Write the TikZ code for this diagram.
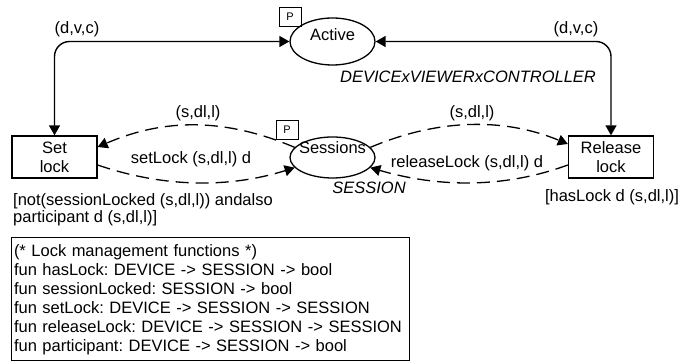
\documentclass[tikz,border=0pt]{standalone}
\usepackage{fontspec}
\setmainfont{Liberation Sans}
\usepackage{xcolor}
\usepackage{tikz}
\usetikzlibrary{arrows.meta, positioning, shapes.geometric, calc}
\definecolor{trait}{HTML}{000000}
\tikzset{
  lieu/.style={ellipse, draw=trait, line width=1.3pt, minimum width=85pt,
    minimum height=47pt, inner sep=0pt},
  transition/.style={rectangle, draw=trait, line width=1.3pt, minimum width=85pt,
    minimum height=42pt, align=center, inner sep=0pt},
  marque/.style={rectangle, draw=trait, line width=0.8pt,
    font=\fontsize{11}{13}\selectfont, minimum width=22pt, minimum height=19pt, inner sep=0pt},
  fleche/.style={{Triangle[length=10pt, width=11pt]}-{Triangle[length=10pt, width=11pt]},
    line width=1.4pt, rounded corners=15pt, color=trait},
  pointille/.style={-{Triangle[length=10pt, width=11pt]}, line width=1.3pt,
    dash pattern=on 13pt off 7pt, color=trait},
  etiquette/.style={inner sep=0pt},
  typelieu/.style={font=\itshape, inner sep=0pt},
  garde/.style={align=left, inner sep=0pt, font=\fontsize{16.5}{17}\selectfont},
  declarations/.style={rectangle, draw=trait, line width=1pt, minimum width=398pt,
    minimum height=123pt, text width=392pt, align=left, inner sep=3pt}
}
\begin{document}
\fontsize{16.5}{19}\selectfont\frenchspacing\hyphenpenalty=10000
\begin{tikzpicture}[x=1pt, y=-1pt]
    \useasboundingbox (0,0) rectangle (681,363);
    % Places
    \node[lieu] (actif) at (332.5,41.5) {};
    \node[etiquette] (tactif) at (332.5,35) {Active};
    \node[marque] (pactif) at (290,16.5) {P};
    \node[typelieu] (cactif) at (468,77) {DEVICExVIEWERxCONTROLLER};

    \node[lieu, minimum height=41pt] (sess) at (332.5,157.5) {};
    \node[etiquette] (tsess) at (332.5,148) {Sessions};
    \node[marque] (psess) at (287,130) {P};
    \node[typelieu] (csess) at (369,188) {SESSION};

    % Transitions
    \node[transition] (pose) at (54.5,157) {Set\\lock};
    \node[transition] (libere) at (611,157) {Release\\lock};
    \node[garde, anchor=west] (gpose) at (13,209.5) {[not(sessionLocked (s,dl,l)) andalso\\participant d (s,dl,l)]};
    \node[garde] (glibere) at (612,197) {[hasLock d (s,dl,l)]};

    % Arcs
    \draw[fleche] (actif.west) -| (pose.north);
    \draw[fleche] (actif.east) -| (libere.north);
    \node[etiquette] (e1) at (77,29) {(d,v,c)};
    \node[etiquette] (e2) at (576,29) {(d,v,c)};

    \draw[pointille] (sess.165) .. controls (225,118) and (165,118) .. ([yshift=10pt]pose.east);
    \draw[pointille] ([yshift=-8pt]pose.east) .. controls (165,188) and (230,188) .. (sess.195);
    \draw[pointille] (sess.15) .. controls (440,118) and (505,118) .. ([yshift=13pt]libere.west);
    \draw[pointille] ([yshift=-8pt]libere.west) .. controls (505,188) and (440,188) .. (sess.345);
    \node[etiquette] (e3) at (198,113) {(s,dl,l)};
    \node[etiquette] (e4) at (472,113) {(s,dl,l)};
    \node[etiquette] (e5) at (191,159) {setLock (s,dl,l) d};
    \node[etiquette] (e6) at (467,163) {releaseLock (s,dl,l) d};

    % Declarations
    \node[declarations] (decl) at (210,299.5) {(* Lock management functions *)\\
      fun hasLock: DEVICE -> SESSION -> bool\\
      fun sessionLocked: SESSION -> bool\\
      fun setLock: DEVICE -> SESSION -> SESSION\\
      fun releaseLock: DEVICE -> SESSION -> SESSION\\
      fun participant: DEVICE -> SESSION -> bool};
  \end{tikzpicture}
\end{document}
